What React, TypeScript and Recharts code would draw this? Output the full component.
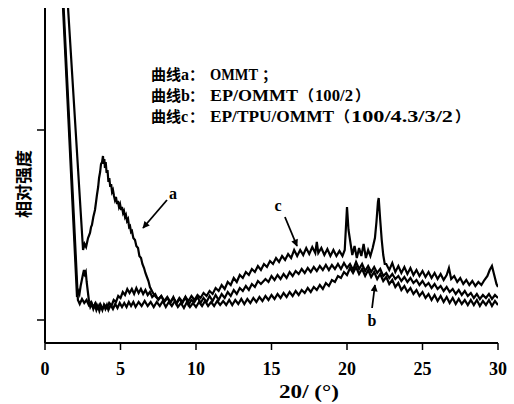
import React from 'react';
import { LineChart, Line, XAxis, YAxis, ReferenceLine, ReferenceDot } from 'recharts';

// 2θ (deg) vs relative intensity (a.u.)
const curveA: [number, number][] = [
  [1.33, 3600], [2.52, 700], [2.62, 760], [2.72, 730], [2.85, 820], [2.98, 870], [3.05, 930], [3.11, 950],
  [3.2, 1030], [3.31, 1100], [3.38, 1180], [3.44, 1250], [3.52, 1330], [3.58, 1420], [3.65, 1480], [3.71, 1560],
  [3.78, 1580], [3.84, 1640], [3.88, 1560], [3.93, 1610], [3.97, 1520], [4.02, 1580], [4.08, 1470], [4.14, 1500],
  [4.2, 1380], [4.26, 1420], [4.32, 1330], [4.38, 1360], [4.44, 1280], [4.5, 1300], [4.57, 1240], [4.63, 1200],
  [4.7, 1230], [4.77, 1160], [4.83, 1190], [4.9, 1130], [4.97, 1160], [5.04, 1100], [5.1, 1130], [5.17, 1070],
  [5.23, 1090], [5.3, 1030], [5.36, 1050], [5.43, 990], [5.5, 1010], [5.57, 930], [5.63, 940], [5.7, 880],
  [5.76, 890], [5.85, 820], [5.96, 800], [6.05, 740], [6.16, 720], [6.25, 640], [6.36, 620], [6.45, 560],
  [6.56, 520], [6.65, 470], [6.75, 430], [6.85, 390], [6.95, 330], [7.05, 300], [7.15, 270], [7.25, 250],
  [7.35, 230], [7.5, 210], [7.7, 240], [7.9, 180], [8.1, 220], [8.3, 170], [8.5, 230], [8.7, 160],
  [8.9, 210], [9.1, 170], [9.3, 230], [9.5, 150], [9.7, 200], [9.9, 180], [10.1, 230], [10.3, 170],
  [10.5, 220], [10.7, 180], [10.9, 240], [11.1, 190], [11.3, 250], [11.5, 200], [11.7, 260], [11.9, 220],
  [12.1, 280], [12.3, 240], [12.5, 300], [12.7, 260], [12.9, 320], [13.1, 290], [13.3, 340], [13.5, 300],
  [13.7, 360], [13.9, 330], [14.1, 390], [14.3, 360], [14.6, 410], [14.8, 380], [15.0, 440], [15.2, 400],
  [15.4, 450], [15.6, 410], [15.8, 460], [16.0, 420], [16.2, 480], [16.4, 440], [16.6, 490], [16.8, 460],
  [17.0, 510], [17.2, 470], [17.4, 520], [17.6, 480], [17.8, 530], [18.0, 490], [18.2, 540], [18.4, 500],
  [18.6, 550], [18.8, 500], [19.0, 550], [19.2, 510], [19.4, 560], [19.6, 510], [19.8, 570], [20.0, 520],
  [20.2, 560], [20.4, 500], [20.6, 580], [20.8, 510], [21.0, 560], [21.2, 490], [21.4, 540], [21.6, 480],
  [21.8, 530], [22.0, 470], [22.2, 510], [22.4, 440], [22.6, 470], [22.8, 420], [23.0, 460], [23.2, 410],
  [23.4, 440], [23.6, 390], [23.8, 430], [24.0, 380], [24.2, 420], [24.4, 370], [24.6, 400], [24.8, 350],
  [25.0, 390], [25.2, 340], [25.4, 370], [25.6, 320], [25.8, 360], [26.0, 310], [26.2, 340], [26.4, 290],
  [26.6, 330], [26.8, 280], [27.0, 310], [27.2, 260], [27.4, 300], [27.6, 250], [27.8, 290], [28.0, 240],
  [28.2, 270], [28.4, 220], [28.6, 260], [28.8, 210], [29.0, 250], [29.2, 220], [29.4, 260], [29.6, 210],
  [29.8, 250], [30.0, 220],
];

const curveB: [number, number][] = [
  [1.04, 3600], [2.12, 230], [2.2, 290], [2.28, 260], [2.36, 340], [2.44, 400], [2.52, 460], [2.58, 500],
  [2.64, 460], [2.7, 480], [2.76, 380], [2.84, 280], [2.92, 180], [3.0, 130], [3.1, 160], [3.2, 110],
  [3.3, 150], [3.4, 100], [3.5, 140], [3.6, 90], [3.7, 140], [3.8, 100], [3.9, 150], [4.0, 110],
  [4.1, 150], [4.2, 100], [4.35, 150], [4.5, 110], [4.65, 160], [4.8, 120], [4.95, 170], [5.1, 130],
  [5.25, 170], [5.4, 130], [5.55, 180], [5.7, 140], [5.85, 180], [6.0, 130], [6.2, 180], [6.4, 140],
  [6.6, 190], [6.8, 140], [7.0, 180], [7.2, 130], [7.4, 180], [7.6, 140], [7.8, 190], [8.0, 130],
  [8.2, 180], [8.4, 140], [8.6, 190], [8.8, 130], [9.0, 170], [9.2, 120], [9.4, 180], [9.6, 130],
  [9.8, 170], [10.0, 130], [10.2, 180], [10.4, 140], [10.6, 190], [10.8, 140], [11.0, 180], [11.2, 140],
  [11.4, 190], [11.6, 150], [11.8, 190], [12.0, 150], [12.2, 200], [12.4, 150], [12.6, 200], [12.8, 160],
  [13.0, 210], [13.2, 160], [13.4, 210], [13.6, 170], [13.8, 220], [14.0, 180], [14.2, 230], [14.4, 190],
  [14.6, 240], [14.8, 200], [15.0, 250], [15.2, 210], [15.4, 260], [15.6, 220], [15.8, 270], [16.0, 230],
  [16.2, 280], [16.4, 240], [16.6, 290], [16.8, 250], [17.0, 300], [17.2, 270], [17.4, 320], [17.6, 280],
  [17.8, 330], [18.0, 300], [18.2, 350], [18.4, 310], [18.6, 370], [18.8, 340], [19.0, 400], [19.2, 380],
  [19.4, 440], [19.6, 420], [19.8, 480], [20.0, 450], [20.2, 520], [20.4, 470], [20.6, 530], [20.8, 460],
  [21.0, 510], [21.2, 440], [21.4, 500], [21.6, 430], [21.8, 480], [22.0, 410], [22.2, 460], [22.4, 390],
  [22.6, 430], [22.8, 360], [23.0, 400], [23.2, 330], [23.4, 370], [23.6, 300], [23.8, 340], [24.0, 280],
  [24.2, 320], [24.4, 260], [24.6, 300], [24.8, 240], [25.0, 280], [25.2, 220], [25.4, 260], [25.6, 200],
  [25.8, 250], [26.0, 190], [26.2, 240], [26.4, 180], [26.6, 230], [26.8, 170], [27.0, 220], [27.2, 160],
  [27.4, 210], [27.6, 160], [27.8, 200], [28.0, 150], [28.2, 200], [28.4, 150], [28.6, 200], [28.8, 140],
  [29.0, 190], [29.2, 150], [29.4, 200], [29.6, 140], [29.8, 190], [30.0, 150],
];

const curveC: [number, number][] = [
  [1.08, 3600], [2.18, 200], [2.3, 160], [2.45, 210], [2.6, 170], [2.75, 200], [2.9, 150], [3.05, 180],
  [3.2, 130], [3.35, 170], [3.5, 120], [3.65, 160], [3.8, 110], [3.95, 150], [4.1, 120], [4.25, 170],
  [4.4, 140], [4.55, 200], [4.7, 180], [4.85, 240], [5.0, 220], [5.15, 280], [5.3, 250], [5.45, 310],
  [5.6, 270], [5.75, 310], [5.9, 260], [6.05, 320], [6.2, 270], [6.35, 310], [6.5, 260], [6.65, 300],
  [6.8, 250], [6.95, 280], [7.1, 230], [7.3, 260], [7.5, 200], [7.7, 240], [7.9, 190], [8.1, 230],
  [8.3, 180], [8.5, 220], [8.7, 170], [8.9, 220], [9.1, 180], [9.3, 230], [9.5, 190], [9.7, 240],
  [9.9, 200], [10.1, 250], [10.3, 220], [10.5, 270], [10.7, 240], [10.9, 290], [11.1, 260], [11.3, 320],
  [11.5, 290], [11.7, 350], [11.9, 310], [12.1, 380], [12.3, 350], [12.5, 420], [12.7, 380], [12.9, 450],
  [13.1, 420], [13.3, 480], [13.5, 450], [13.7, 510], [13.9, 480], [14.1, 540], [14.3, 500], [14.5, 560],
  [14.7, 530], [14.9, 590], [15.1, 560], [15.3, 620], [15.5, 580], [15.7, 640], [15.9, 600], [16.1, 660],
  [16.3, 620], [16.5, 700], [16.7, 640], [16.9, 700], [17.1, 650], [17.3, 720], [17.5, 660], [17.7, 730],
  [17.9, 670], [18.0, 780], [18.1, 670], [18.3, 720], [18.5, 650], [18.7, 710], [18.9, 640], [19.1, 700],
  [19.3, 640], [19.5, 690], [19.7, 640], [19.85, 700], [20.0, 1130], [20.1, 900], [20.2, 800], [20.35, 650],
  [20.5, 740], [20.65, 620], [20.8, 720], [20.95, 640], [21.1, 760], [21.25, 620], [21.4, 700], [21.55, 640],
  [21.7, 720], [21.85, 820], [21.95, 980], [22.05, 1180], [22.1, 1220], [22.2, 1000], [22.3, 800], [22.4, 650],
  [22.5, 560], [22.6, 560], [22.8, 500], [23.0, 570], [23.2, 480], [23.4, 540], [23.6, 470], [23.8, 530],
  [24.0, 460], [24.2, 520], [24.4, 450], [24.6, 500], [24.8, 440], [25.0, 490], [25.2, 430], [25.4, 480],
  [25.6, 420], [25.8, 470], [26.0, 410], [26.2, 460], [26.4, 400], [26.6, 450], [26.75, 520], [26.9, 410],
  [27.1, 440], [27.3, 380], [27.5, 420], [27.7, 360], [27.9, 400], [28.1, 350], [28.3, 390], [28.5, 340],
  [28.7, 380], [28.9, 350], [29.1, 400], [29.3, 440], [29.45, 500], [29.6, 540], [29.75, 450], [29.9, 360],
  [30.0, 330],
];

const xTicks = [0, 5, 10, 15, 20, 25, 30];
const yTicks = [0, 1900];
const yDomain: [number, number] = [-230, 3120];

// annotation arrows: [x1, y1, x2(tip), y2(tip)] and label positions
const arrowA = [8.08, 1200, 6.49, 920];
const arrowC = [15.89, 1030, 16.69, 740];
const arrowB = [21.66, 120, 21.85, 350];
const labelA = [8.48, 1270];
const labelC = [15.43, 1150];
const labelB = [21.66, 0];

const toRows = (pts: [number, number][]) => pts.map(([x, y]) => ({ x, y }));

const serif = '"Liberation Serif", "DejaVu Serif", serif';
const cjk = '"Noto Sans CJK SC", sans-serif';

const EmptyTick = () => <g />;

const arrowSeg = (a: number[], key: string) => (
  <ReferenceLine
    key={key}
    segment={[{ x: a[0], y: a[1] }, { x: a[2], y: a[3] }]}
    stroke="#000"
    strokeWidth={1.8}
    markerEnd="url(#arrowHead)"
    ifOverflow="visible"
  />
);

const labelDot = (p: number[], text: string, key: string) => (
  <ReferenceDot
    key={key}
    x={p[0]}
    y={p[1]}
    r={1}
    fill="none"
    stroke="none"
    ifOverflow="visible"
    label={{ value: text, position: 'center', fill: '#000', fontSize: 16, fontWeight: 'bold', fontFamily: serif }}
  />
);

type Seg = { x: number; t: string; f: 'c' | 's'; len?: number };
const legendRows: { y: number; segs: Seg[] }[] = [
  {
    y: 80,
    segs: [
      { x: 151, t: '曲线', f: 'c' },
      { x: 181, t: 'a', f: 's' },
      { x: 189, t: '：', f: 'c' },
      { x: 210, t: 'OMMT', f: 's', len: 48 },
      { x: 262, t: '；', f: 'c' },
    ],
  },
  {
    y: 101,
    segs: [
      { x: 151, t: '曲线', f: 'c' },
      { x: 181, t: 'b', f: 's' },
      { x: 189, t: '：', f: 'c' },
      { x: 210, t: 'EP/OMMT', f: 's', len: 88 },
      { x: 299, t: '（', f: 'c' },
      { x: 315, t: '100/2', f: 's', len: 38 },
      { x: 355, t: '）', f: 'c' },
    ],
  },
  {
    y: 122,
    segs: [
      { x: 151, t: '曲线', f: 'c' },
      { x: 181, t: 'c', f: 's' },
      { x: 189, t: '：', f: 'c' },
      { x: 210, t: 'EP/TPU/OMMT', f: 's', len: 124 },
      { x: 335, t: '（', f: 'c' },
      { x: 351, t: '100/4.3/3/2', f: 's', len: 102 },
      { x: 455, t: '）', f: 'c' },
    ],
  },
];

export default function App() {
  return (
    <div style={{ position: 'absolute', left: 0, top: 0, width: 514, height: 404, background: '#fff' }}>
      <svg width={0} height={0} style={{ position: 'absolute' }}>
        <defs>
          <marker id="arrowHead" viewBox="0 0 10 10" refX="9" refY="5" markerWidth="9" markerHeight="7" markerUnits="userSpaceOnUse" orient="auto">
            <path d="M0,0 L10,5 L0,10 z" fill="#000" />
          </marker>
        </defs>
      </svg>
      <LineChart width={514} height={404} margin={{ top: 8, right: 16, bottom: 31, left: 5 }}>
        <XAxis
          type="number"
          dataKey="x"
          domain={[0, 30]}
          ticks={xTicks}
          allowDataOverflow
          height={30}
          axisLine={{ stroke: '#000', strokeWidth: 2 }}
          tickLine={{ stroke: '#000', strokeWidth: 1.5 }}
          tickSize={7}
          tickMargin={12}
          tick={{ fontSize: 18, fontWeight: 'bold', fontFamily: serif, fill: '#000' }}
          interval={0}
        />
        <YAxis
          type="number"
          dataKey="y"
          domain={yDomain}
          ticks={yTicks}
          allowDataOverflow
          width={40}
          axisLine={{ stroke: '#000', strokeWidth: 2 }}
          tickLine={{ stroke: '#000', strokeWidth: 1.5 }}
          tickSize={8}
          tick={EmptyTick}
        />
        <Line data={toRows(curveA)} dataKey="y" type="linear" stroke="#000" strokeWidth={2.2} dot={false} isAnimationActive={false} />
        <Line data={toRows(curveB)} dataKey="y" type="linear" stroke="#000" strokeWidth={2.2} dot={false} isAnimationActive={false} />
        <Line data={toRows(curveC)} dataKey="y" type="linear" stroke="#000" strokeWidth={2.2} dot={false} isAnimationActive={false} />
        {arrowSeg(arrowA, 'aa')}
        {arrowSeg(arrowC, 'ac')}
        {arrowSeg(arrowB, 'ab')}
        {labelDot(labelA, 'a', 'la')}
        {labelDot(labelC, 'c', 'lc')}
        {labelDot(labelB, 'b', 'lb')}
      </LineChart>
      <svg width={514} height={404} style={{ position: 'absolute', left: 0, top: 0, pointerEvents: 'none' }}>
        {legendRows.map((row, i) =>
          row.segs.map((s, j) => (
            <text
              key={`${i}-${j}`}
              x={s.x}
              y={row.y}
              fontSize={s.f === 'c' ? 15 : 16}
              fontWeight="bold"
              fontFamily={s.f === 'c' ? cjk : serif}
              fill="#000"
              {...(s.len ? { textLength: s.len, lengthAdjust: 'spacingAndGlyphs' } : {})}
            >
              {s.t}
            </text>
          ))
        )}
        <text
          transform="translate(22,184) rotate(-90)"
          textAnchor="middle"
          dominantBaseline="central"
          fontSize={17}
          fontWeight="bold"
          fontFamily={cjk}
          fill="#000"
        >
          相对强度
        </text>
        <text x={309} y={398} textAnchor="middle" fontSize={18} fontWeight="bold" fontFamily={serif} fill="#000" textLength={60} lengthAdjust="spacingAndGlyphs">
          20/ (°)
        </text>
      </svg>
    </div>
  );
}
